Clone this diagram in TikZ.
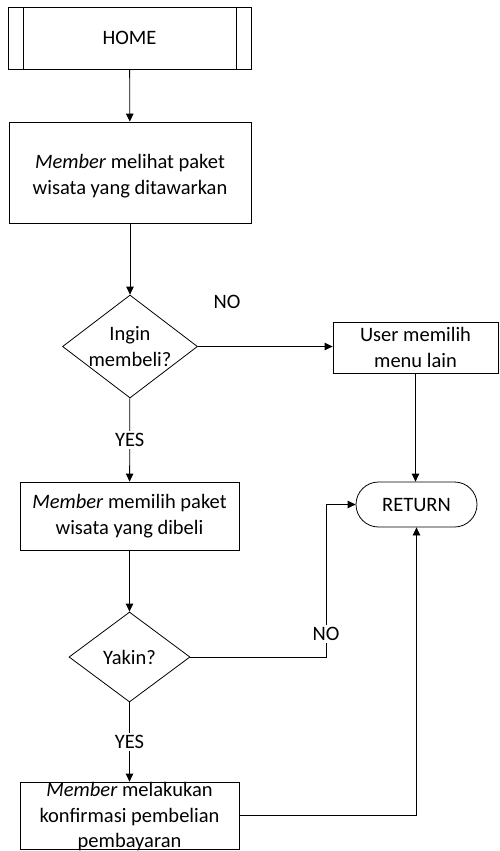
\documentclass[tikz,border=0pt]{standalone}
\usepackage{fontspec}
\setmainfont{Carlito}
\usetikzlibrary{shapes.geometric,arrows.meta}
\begin{document}
\begin{tikzpicture}[x=1pt,y=-1pt,
 every node/.style={font=\fontsize{20.5}{25.5}\selectfont},
 box/.style={draw,line width=0.8pt,inner sep=0pt,align=center},
 arr/.style={line width=0.8pt,-{Triangle[length=8pt,width=7.5pt]}},
 ln/.style={line width=0.8pt},
 lbl/.style={fill=white,inner sep=2pt}]
\useasboundingbox (0,0) rectangle (499,851);
\node[box,minimum width=243pt,minimum height=62pt] (home) at (129.5,38) {HOME};
\draw[ln] ([xshift=16pt]home.north west) -- ([xshift=16pt]home.south west);
\draw[ln] ([xshift=-15pt]home.north east) -- ([xshift=-15pt]home.south east);
\node[box,minimum width=242pt,minimum height=101pt] (see) at (130,172.5) {};
\node[align=center] (seet) at (130,176) {\textit{Member} melihat paket\\wisata yang ditawarkan};
\node[box,diamond,minimum width=135pt,minimum height=103pt] (d1) at (130,346.5) {};
\node[align=center] (d1t) at (d1.center) {Ingin\\membeli?};
\node[box,minimum width=165pt,minimum height=51pt] (user) at (415.5,347.5) {User memilih\\menu lain};
\node[box,rounded corners=22.5pt,minimum width=121pt,minimum height=45pt] (ret) at (416.5,504.5) {RETURN};
\node[box,minimum width=219pt,minimum height=68pt] (pilih) at (129.5,516) {\textit{Member} memilih paket\\wisata yang dibeli};
\node[box,diamond,minimum width=121pt,minimum height=90pt] (d2) at (129.5,657) {};
\node (d2t) at (d2.center) {Yakin?};
\node[box,minimum width=219pt,minimum height=67pt] (konf) at (129.5,815.5) {};
\node[align=center] (konft) at (129.5,817) {\textit{Member} melakukan\\konfirmasi pembelian\\pembayaran};
\node (no1) at (227,302) {NO};
\draw[arr] (home) -- (see);
\draw[arr] (see) -- (d1);
\draw[arr] (d1.east) -- (d1.east -| user.west);
\draw[arr] (d1) -- node[lbl] (yes1) {YES} (pilih);
\draw[arr] (user.south) -- (user.south |- ret.north);
\draw[arr] (pilih) -- (d2);
\draw[arr] (d2) -- node[lbl] (yes2) {YES} (konf);
\coordinate (nobend) at (326,657);
\draw[arr] (d2.east) -- (nobend) |- (ret.west);
\node[lbl] (no2) at (326,634) {NO};
\draw[arr] (konf.east) -| (ret.south);
\end{tikzpicture}
\end{document}
